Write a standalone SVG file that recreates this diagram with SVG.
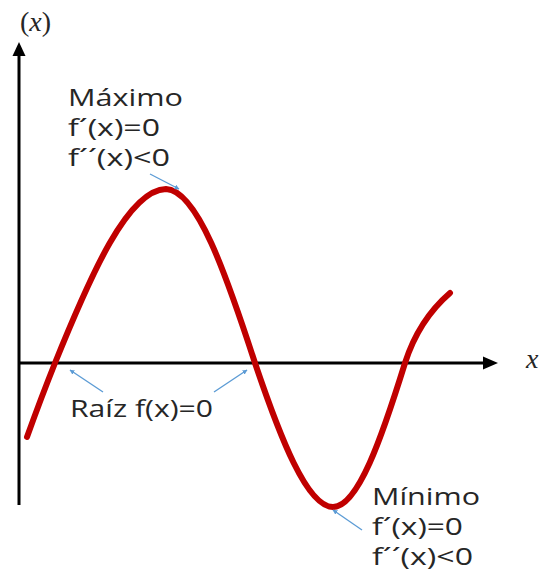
<svg xmlns="http://www.w3.org/2000/svg" width="545" height="576" viewBox="0 0 545 576">
<style>
.axis{stroke:#000;stroke-width:3;fill:none}
.curve{stroke:#C00000;stroke-width:6;fill:none;stroke-linecap:round;stroke-linejoin:round}
.ptr{stroke:#5B9BD5;stroke-width:1.3;fill:none}
.lbl{font-family:"Open Sans","Liberation Sans",sans-serif;font-size:23px;fill:#262626}
.math{font-family:"Liberation Serif","DejaVu Serif",serif;font-size:28px;fill:#262626}
.it{font-style:italic}
</style>
<defs>
<marker id="ah" viewBox="0 0 10 10" refX="9" refY="5" markerWidth="5" markerHeight="5" markerUnits="userSpaceOnUse" orient="auto">
<path d="M0,0 L10,5 L0,10 z" fill="#5B9BD5"/>
</marker>
</defs>
<g id="axes">
<line class="axis" x1="19" y1="505" x2="19" y2="54"/>
<path d="M19,42 L12.5,56 L25.5,56 z" fill="#000"/>
<line class="axis" x1="18" y1="363" x2="486" y2="363"/>
<path d="M498,363 L483,356.5 L483,369.5 z" fill="#000"/>
<text class="math" x="20" y="31">(<tspan class="it">x</tspan>)</text>
<text class="math it" x="526" y="368">x</text>
</g>
<g id="curve">
<path class="curve" d="M27,437 C36,412 45,388 55,363 C91,274 128,190 166,189 C197,190 226,274 255,363 C280,437 307,507 333,507 C358,507 382,437 405,363 C413,338 428,312 450,293"/>
</g>
<g id="connectors">
<line class="ptr" x1="150" y1="174" x2="179" y2="189" marker-end="url(#ah)"/>
<line class="ptr" x1="103" y1="392" x2="70" y2="370" marker-end="url(#ah)"/>
<line class="ptr" x1="214" y1="392" x2="247" y2="370" marker-end="url(#ah)"/>
<line class="ptr" x1="362" y1="530" x2="333" y2="510" marker-end="url(#ah)"/>
</g>
<g id="maximo">
<text class="lbl" x="68" y="106" textLength="115" lengthAdjust="spacingAndGlyphs">Máximo</text>
<text class="lbl" x="68" y="136" textLength="92" lengthAdjust="spacingAndGlyphs">f´(x)=0</text>
<text class="lbl" x="68" y="166" textLength="102" lengthAdjust="spacingAndGlyphs">f´´(x)&lt;0</text>
</g>
<g id="raiz">
<text class="lbl" x="70" y="417" textLength="143" lengthAdjust="spacingAndGlyphs">Raíz f(x)=0</text>
</g>
<g id="minimo">
<text class="lbl" x="372" y="505" textLength="108" lengthAdjust="spacingAndGlyphs">Mínimo</text>
<text class="lbl" x="372" y="535" textLength="91" lengthAdjust="spacingAndGlyphs">f´(x)=0</text>
<text class="lbl" x="372" y="565" textLength="101" lengthAdjust="spacingAndGlyphs">f´´(x)&lt;0</text>
</g>
</svg>
